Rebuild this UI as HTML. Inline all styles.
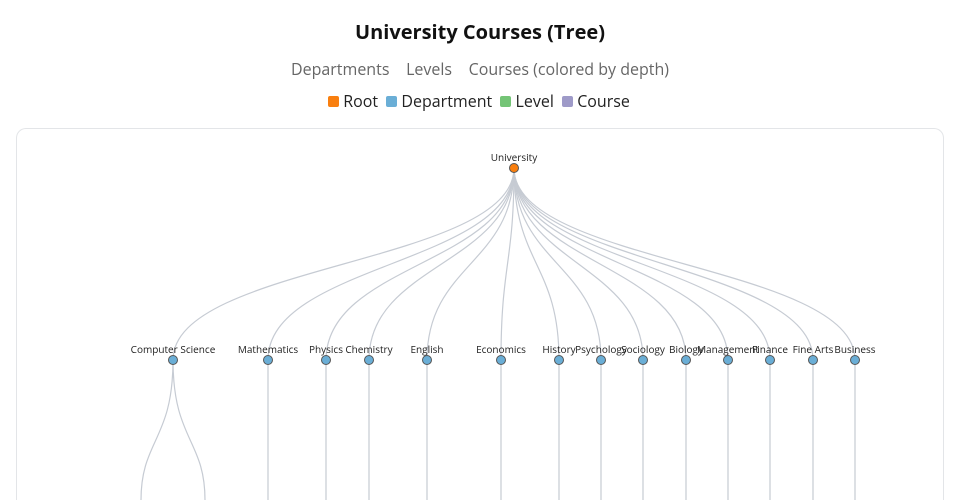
<!DOCTYPE html>
<html style="overflow:hidden;height:500px"><head><meta charset="utf-8"><style>
html,body{margin:0;width:960px;height:500px;overflow:hidden;background:#fff;font-family:"Open Sans","Liberation Sans",sans-serif;}
#wrap{position:relative;width:960px;height:500px;overflow:hidden;}
.t{position:absolute;left:0;width:960px;text-align:center;}
</style></head><body><div id="wrap">
<div class="t" style="top:18px;font-size:20px;font-weight:bold;color:#111;">University Courses (Tree)</div>
<div class="t" style="top:58px;font-size:16px;color:#666;">Departments&nbsp;&nbsp;&nbsp;&nbsp;Levels&nbsp;&nbsp;&nbsp;&nbsp;Courses (colored by depth)</div>
<div class="t" style="top:90px;font-size:16px;color:#222;left:-1px;">
<span style="display:inline-block;width:11px;height:11px;background:#f97f0f;border-radius:2px"></span> Root
<span style="display:inline-block;width:11px;height:11px;background:#6aaed6;border-radius:2px;margin-left:4px"></span> Department
<span style="display:inline-block;width:11px;height:11px;background:#74c476;border-radius:2px;margin-left:4px"></span> Level
<span style="display:inline-block;width:11px;height:11px;background:#9e9ac8;border-radius:2px;margin-left:4px"></span> Course
</div>
<div style="position:absolute;left:16px;top:128px;width:928px;height:372px;border:1px solid #e3e5e8;border-bottom:none;border-radius:10px 10px 0 0;box-sizing:border-box;"></div>
<svg width="960" height="500" style="position:absolute;left:0;top:0">
<g fill="none" stroke="#c6cbd3" stroke-width="1.2">
<path d="M514,168 C514,264 173,264 173,360"/><path d="M514,168 C514,264 268,264 268,360"/>
<path d="M514,168 C514,264 326,264 326,360"/><path d="M514,168 C514,264 369,264 369,360"/>
<path d="M514,168 C514,264 427,264 427,360"/><path d="M514,168 C514,264 501,264 501,360"/>
<path d="M514,168 C514,264 559,264 559,360"/><path d="M514,168 C514,264 601,264 601,360"/>
<path d="M514,168 C514,264 643,264 643,360"/><path d="M514,168 C514,264 686,264 686,360"/>
<path d="M514,168 C514,264 728,264 728,360"/><path d="M514,168 C514,264 770,264 770,360"/>
<path d="M514,168 C514,264 813,264 813,360"/><path d="M514,168 C514,264 855,264 855,360"/>
<path d="M173,360 C173,440 141,440 141,500"/><path d="M173,360 C173,440 205,440 205,500"/>
<path d="M268,360 V500 M326,360 V500 M369,360 V500 M427,360 V500 M501,360 V500 M559,360 V500 M601,360 V500 M643,360 V500 M686,360 V500 M728,360 V500 M770,360 V500 M813,360 V500 M855,360 V500"/>
</g>
<g font-family="Open Sans, Liberation Sans, sans-serif" font-size="10" fill="#222" text-anchor="middle">
<text x="514" y="161">University</text>
<text x="173" y="353">Computer Science</text><text x="268" y="353">Mathematics</text>
<text x="326" y="353">Physics</text><text x="369" y="353">Chemistry</text>
<text x="427" y="353">English</text><text x="501" y="353">Economics</text>
<text x="559" y="353">History</text><text x="601" y="353">Psychology</text>
<text x="643" y="353">Sociology</text><text x="686" y="353">Biology</text>
<text x="728" y="353">Management</text><text x="770" y="353">Finance</text>
<text x="813" y="353">Fine Arts</text><text x="855" y="353">Business</text>
</g>
<circle cx="514" cy="168" r="4.5" fill="#f97f0f" stroke="#555" stroke-width="1"/>
<g fill="#6aaed6" stroke="#555" stroke-width="1">
<circle cx="173" cy="360" r="4.5"/><circle cx="268" cy="360" r="4.5"/><circle cx="326" cy="360" r="4.5"/><circle cx="369" cy="360" r="4.5"/><circle cx="427" cy="360" r="4.5"/><circle cx="501" cy="360" r="4.5"/><circle cx="559" cy="360" r="4.5"/><circle cx="601" cy="360" r="4.5"/><circle cx="643" cy="360" r="4.5"/><circle cx="686" cy="360" r="4.5"/><circle cx="728" cy="360" r="4.5"/><circle cx="770" cy="360" r="4.5"/><circle cx="813" cy="360" r="4.5"/><circle cx="855" cy="360" r="4.5"/>
</g>
</svg>
</div></body></html>
